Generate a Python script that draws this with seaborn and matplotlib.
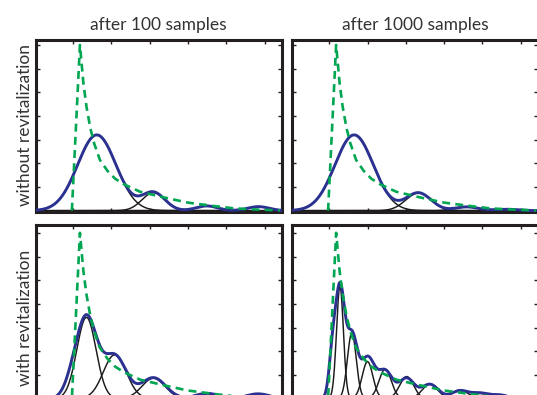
import numpy as np
import matplotlib
matplotlib.use("Agg")
import matplotlib.pyplot as plt
import seaborn as sns

# ---------------- data ----------------
col_titles = ["after 100 samples", "after 1000 samples"]
row_labels = ["without revitalization", "with revitalization"]

# green dashed target curve
green_x = [0.97, 1.18, 1.27, 1.35, 1.45, 1.55, 1.70, 1.90, 2.10, 2.32, 2.75, 3.40, 4.00, 4.66, 5.19, 5.75, 6.40]
green_y = [0.00, 7.00, 5.40, 4.40, 3.50, 2.85, 2.15, 1.68, 1.35, 1.12, 0.80, 0.55, 0.34, 0.20, 0.10, 0.05, 0.01]

# top-left: without revitalization, 100 samples (blue = sum of black components)
tl_means = [1.62, 3.10, 4.49, 5.84]
tl_heights = [3.20, 0.76, 0.20, 0.17]
tl_sds = [0.50, 0.30, 0.28, 0.28]

# top-right: without revitalization, 1000 samples
tr_means = [1.65, 3.33, 4.59, 5.63]
tr_heights = [3.20, 0.75, 0.16, 0.06]
tr_sds = [0.50, 0.33, 0.30, 0.30]

# bottom-left: with revitalization, 100 samples
bl_means = [1.35, 2.09, 3.10, 4.50, 5.83]
bl_heights = [3.43, 1.85, 0.86, 0.20, 0.20]
bl_sds = [0.25, 0.30, 0.30, 0.30, 0.30]
bl_blue_means = [0.96, 1.35, 2.09, 3.10, 4.50, 5.83]
bl_blue_heights = [0.40, 3.40, 1.80, 0.88, 0.22, 0.20]
bl_blue_sds = [0.20, 0.27, 0.30, 0.32, 0.30, 0.30]

# bottom-right: with revitalization, 1000 samples
br_means = [1.28, 1.59, 2.00, 2.46, 3.02, 3.63, 4.41, 4.93, 5.45]
br_heights = [4.74, 2.77, 1.56, 1.24, 0.93, 0.62, 0.36, 0.22, 0.15]
br_sds = [0.09, 0.115, 0.14, 0.16, 0.18, 0.20, 0.21, 0.22, 0.22]
br_blue_means = [1.08, 1.28, 1.59, 2.00, 2.46, 3.02, 3.63, 4.41, 4.93, 5.45]
br_blue_heights = [1.60, 4.55, 2.60, 1.70, 1.15, 0.85, 0.60, 0.33, 0.22, 0.15]
br_blue_sds = [0.09, 0.12, 0.14, 0.18, 0.19, 0.20, 0.22, 0.22, 0.22, 0.22]

x_ticks = [1, 2, 3, 4, 5, 6]
y_ticks = [1, 2, 3, 4, 5, 6, 7]

# ---------------- style ----------------
sns.set_style("white")
plt.rcParams["font.family"] = ["Lato", "DejaVu Sans"]

BLUE = "#2b3190"
GREEN = "#00a651"
BLACK = "#1a1a1a"
SPINE = "#231f20"
TEXT = "#333333"

W, H = 537, 395
fig = plt.figure(figsize=(W / 100, H / 100), dpi=100)
fig.patch.set_facecolor("white")

XMIN, XMAX = 0.02, 6.456


def gauss(x, m, h, s):
    return h * np.exp(-0.5 * ((x - m) / s) ** 2)


grid = np.linspace(XMIN, XMAX, 700)

panels = [
    dict(left=35.5, bottom=(H - 211.5) / H, height=172 / H, ylim=(-0.035, 7.23),
         comps=(tl_means, tl_heights, tl_sds), blue=(tl_means, tl_heights, tl_sds),
         title=col_titles[0], ylabel=row_labels[0], ly=0.503),
    dict(left=291.7, bottom=(H - 211.5) / H, height=172 / H, ylim=(-0.035, 7.23),
         comps=(tr_means, tr_heights, tr_sds), blue=(tr_means, tr_heights, tr_sds),
         title=col_titles[1], ylabel=None, ly=None),
    dict(left=35.5, bottom=(H - 399.4) / H, height=173.9 / H, ylim=(-0.035, 7.31),
         comps=(bl_means, bl_heights, bl_sds), blue=(bl_blue_means, bl_blue_heights, bl_blue_sds),
         title=None, ylabel=row_labels[1], ly=0.4715),
    dict(left=291.7, bottom=(H - 399.4) / H, height=173.9 / H, ylim=(-0.035, 7.31),
         comps=(br_means, br_heights, br_sds), blue=(br_blue_means, br_blue_heights, br_blue_sds),
         title=None, ylabel=None, ly=None),
]

for p in panels:
    ax = fig.add_axes([p["left"] / W, p["bottom"], 246.5 / W, p["height"]])
    ax.set_facecolor("white")

    means, heights, sds = p["comps"]
    for m, h, s in zip(means, heights, sds):
        sns.lineplot(x=grid, y=gauss(grid, m, h, s), ax=ax, color=BLACK,
                     linewidth=1.05, estimator=None, sort=False, zorder=2)

    bm, bh, bs = p["blue"]
    blue_curve = np.zeros_like(grid)
    for m, h, s in zip(bm, bh, bs):
        blue_curve = blue_curve + gauss(grid, m, h, s)
    sns.lineplot(x=grid, y=blue_curve, ax=ax, color=BLUE, linewidth=2.1,
                 estimator=None, sort=False, zorder=3)

    sns.lineplot(x=green_x, y=green_y, ax=ax, color=GREEN, linewidth=1.9,
                 estimator=None, sort=False, zorder=4)
    gl = ax.lines[-1]
    gl.set_dashes((3.0, 2.0))
    gl.set_dash_joinstyle("round")

    ax.set_xlim(XMIN, XMAX)
    ax.set_ylim(*p["ylim"])
    ax.set_xticks(x_ticks)
    ax.set_yticks(y_ticks)
    ax.tick_params(direction="in", length=3, width=1.0, color=SPINE,
                   top=True, right=True, bottom=True, left=True,
                   labelleft=False, labelbottom=False)
    for sp in ax.spines.values():
        sp.set_visible(True)
        sp.set_linewidth(2.2)
        sp.set_color(SPINE)

    if p["title"]:
        ax.set_title(p["title"], fontsize=12.5, color=TEXT, pad=7)
    if p["ylabel"]:
        ax.set_ylabel(p["ylabel"], fontsize=12.5, color=TEXT)
        ax.yaxis.set_label_coords(-0.012, p["ly"])

fig.savefig("out.png", dpi=100, facecolor="white")
